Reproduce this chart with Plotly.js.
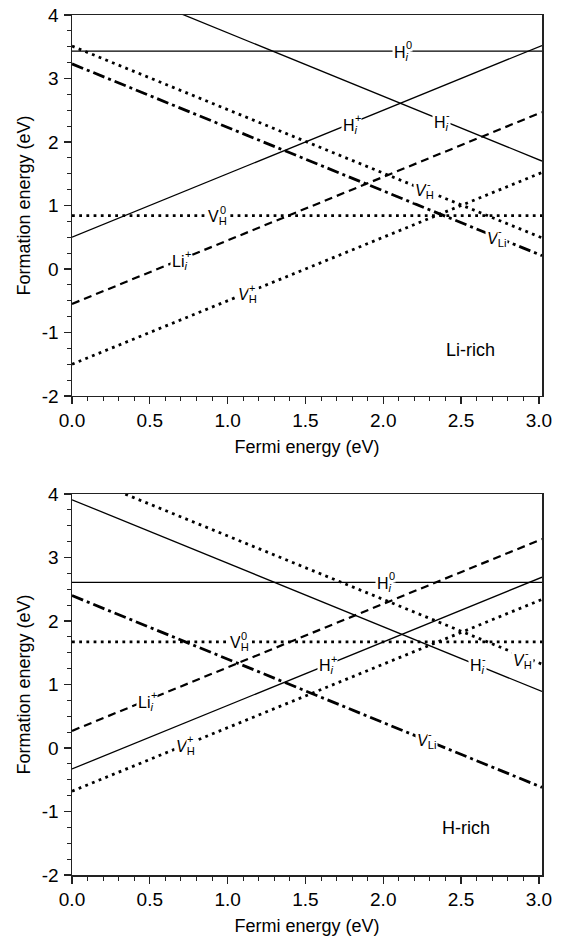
<!DOCTYPE html>
<html>
<head>
<meta charset="utf-8">
<script src="https://cdn.plot.ly/plotly-3.0.1.min.js"></script>
<style>html,body{margin:0;padding:0;background:#fff;}#chart{width:562px;height:939px;}</style>
</head>
<body>
<div id="chart"></div>
<script>
// Fermi energy end points of each (straight) formation-energy line
const fermi = [0, 3.02];

// Axis tick values / labels
const yTickVals = [-2, -1, 0, 1, 2, 3, 4];
const yTickText = ['-2', '-1', '0', '1', '2', '3', '4'];
const xTickVals = [0, 0.5, 1.0, 1.5, 2.0, 2.5, 3.0];
const xTickText = ['0.0', '0.5', '1.0', '1.5', '2.0', '2.5', '3.0'];

// Li-rich panel (formation energies at the two Fermi-energy ends)
const liRichHi0     = [3.43, 3.43];
const liRichHiMinus = [4.72, 1.70];
const liRichHiPlus  = [0.50, 3.52];
const liRichVHMinus = [3.51, 0.49];
const liRichVLiMinus= [3.23, 0.21];
const liRichVH0     = [0.84, 0.84];
const liRichLiiPlus = [-0.55, 2.47];
const liRichVHPlus  = [-1.50, 1.52];

// H-rich panel
const hRichHi0      = [2.61, 2.61];
const hRichHiMinus  = [3.91, 0.89];
const hRichVHMinus  = [4.34, 1.32];
const hRichVLiMinus = [2.40, -0.62];
const hRichVH0      = [1.67, 1.67];
const hRichLiiPlus  = [0.27, 3.29];
const hRichHiPlus   = [-0.33, 2.69];
const hRichVHPlus   = [-0.68, 2.34];

// Label pieces: [main symbol, subscript, superscript]
const lblHi0      = ['H', '<i>i</i>', '0'];
const lblHiMinus  = ['H', '<i>i</i>', '-'];
const lblHiPlus   = ['H', '<i>i</i>', '+'];
const lblVHMinus  = ['<i>V</i>', 'H', '-'];
const lblVHPlus   = ['<i>V</i>', 'H', '+'];
const lblVH0      = ['V', 'H', '0'];
const lblVLiMinus = ['<i>V</i>', 'Li', '-'];
const lblLiiPlus  = ['Li', '<i>i</i>', '+'];

// label positions [x, y]
const liRichLabelPos = [[2.12,3.43],[2.37,2.33],[1.79,2.28],[2.26,1.25],[2.72,0.50],[0.93,0.84],[0.70,0.14],[1.12,-0.39]];
const hRichLabelPos  = [[2.01,2.61],[2.60,1.31],[2.89,1.40],[2.27,0.13],[1.07,1.67],[0.48,0.74],[1.64,1.31],[0.72,0.04]];

const FONT = 'Arial, "Liberation Sans", Helvetica, sans-serif';
const LBL = 16;
const solid = {color:'#000', width:1.3, dash:'solid'};
const dashed = {color:'#000', width:2.2, dash:'8px,5px'};
const dotted = {color:'#000', width:2.8, dash:'2.8px,4.4px'};
const dashdot = {color:'#000', width:2.8, dash:'12px,4px,3px,4px'};

function tr(y, line, xa, ya){
  return {x: fermi, y: y, mode:'lines', line: line, xaxis: xa, yaxis: ya, hoverinfo:'skip'};
}

const data = [
  tr(liRichHi0, solid, 'x','y'),
  tr(liRichHiMinus, solid, 'x','y'),
  tr(liRichHiPlus, solid, 'x','y'),
  tr(liRichVHMinus, dotted, 'x','y'),
  tr(liRichVLiMinus, dashdot, 'x','y'),
  tr(liRichVH0, dotted, 'x','y'),
  tr(liRichLiiPlus, dashed, 'x','y'),
  tr(liRichVHPlus, dotted, 'x','y'),
  tr(hRichHi0, solid, 'x2','y2'),
  tr(hRichHiMinus, solid, 'x2','y2'),
  tr(hRichVHMinus, dotted, 'x2','y2'),
  tr(hRichVLiMinus, dashdot, 'x2','y2'),
  tr(hRichVH0, dotted, 'x2','y2'),
  tr(hRichLiiPlus, dashed, 'x2','y2'),
  tr(hRichHiPlus, solid, 'x2','y2'),
  tr(hRichVHPlus, dotted, 'x2','y2')
];

const liRichLabels = [lblHi0, lblHiMinus, lblHiPlus, lblVHMinus, lblVLiMinus, lblVH0, lblLiiPlus, lblVHPlus];
const hRichLabels  = [lblHi0, lblHiMinus, lblVHMinus, lblVLiMinus, lblVH0, lblLiiPlus, lblHiPlus, lblVHPlus];

// approximate Arial advance widths (em) to stack sub- and superscripts
const EM = {'H':0.722,'V':0.667,'L':0.556,'i':0.222,'0':0.556,'+':0.584,'-':0.333};
function textW(s, size){
  const plain = s.replace(/<[^>]+>/g,'');
  let w = 0; for (const c of plain) w += (EM[c]||0.55);
  return w*size;
}

const annotations = [];
function addLabels(labels, pos, xr, yr){
  labels.forEach((parts,i)=>{
    const [main, sub, sup] = parts;
    const mainW = textW(main, LBL);
    const subW = textW(sub, LBL*0.7);
    const supW = textW(sup, LBL*0.7);
    const total = mainW + Math.max(subW, supW);
    const left = -total/2;
    annotations.push({x: pos[i][0], y: pos[i][1], xref: xr, yref: yr,
      text: main + '<sub>' + sub + '</sub>', showarrow:false, xanchor:'left', xshift:left - 1, yshift:-2,
      bgcolor:'#fff', borderpad:1, font:{family:FONT, size:LBL, color:'#000'}});
    annotations.push({x: pos[i][0], y: pos[i][1], xref: xr, yref: yr,
      text: sup, showarrow:false, xanchor:'left', xshift:left + mainW + 0.5, yshift:6,
      bgcolor:'#fff', borderpad:0, font:{family:FONT, size:Math.round(LBL*0.7), color:'#000'}});
  });
}
addLabels(liRichLabels, liRichLabelPos, 'x','y');
addLabels(hRichLabels, hRichLabelPos, 'x2','y2');
annotations.push({x:2.56, y:-1.28, xref:'x', yref:'y', text:'Li-rich', showarrow:false, font:{family:FONT,size:18,color:'#000'}});
annotations.push({x:2.53, y:-1.26, xref:'x2', yref:'y2', text:'H-rich', showarrow:false, font:{family:FONT,size:18,color:'#000'}});

function xax(anchor){
  return {anchor: anchor, range:[0,3.02], tickmode:'array', tickvals:xTickVals, ticktext:xTickText,
    ticks:'outside', ticklen:7, tickwidth:1.3, tickcolor:'#222',
    minor:{dtick:0.1, tick0:0, ticks:'outside', ticklen:4, tickwidth:1, tickcolor:'#222', showgrid:false},
    showline:true, mirror:true, linecolor:'#222', linewidth:1.5,
    showgrid:false, zeroline:false, fixedrange:true,
    tickfont:{family:FONT, size:19, color:'#000'},
    title:{text:'Fermi energy (eV)', font:{family:FONT, size:18, color:'#000'}, standoff:10}};
}
function yax(anchor, domain){
  return {anchor: anchor, domain: domain, range:[-2,4], tickmode:'array', tickvals:yTickVals, ticktext:yTickText,
    ticks:'outside', ticklen:7, tickwidth:1.3, tickcolor:'#222',
    minor:{dtick:0.25, tick0:0, ticks:'outside', ticklen:4, tickwidth:1, tickcolor:'#222', showgrid:false},
    showline:true, mirror:true, linecolor:'#222', linewidth:1.5,
    showgrid:false, zeroline:false, fixedrange:true, ticklabelstandoff:1,
    tickfont:{family:FONT, size:19, color:'#000'},
    title:{text:'Formation energy (eV)', font:{family:FONT, size:18, color:'#000'}, standoff:6}};
}

const layout = {
  width:562, height:939,
  margin:{l:72, r:20, t:15, b:64},
  paper_bgcolor:'#fff', plot_bgcolor:'#fff',
  showlegend:false,
  xaxis: xax('y'),
  yaxis: yax('x', [0.557, 1]),
  xaxis2: xax('y2'),
  yaxis2: yax('x2', [0, 0.443]),
  annotations: annotations
};

Plotly.newPlot('chart', data, layout, {displayModeBar:false, staticPlot:true});
</script>
</body>
</html>
